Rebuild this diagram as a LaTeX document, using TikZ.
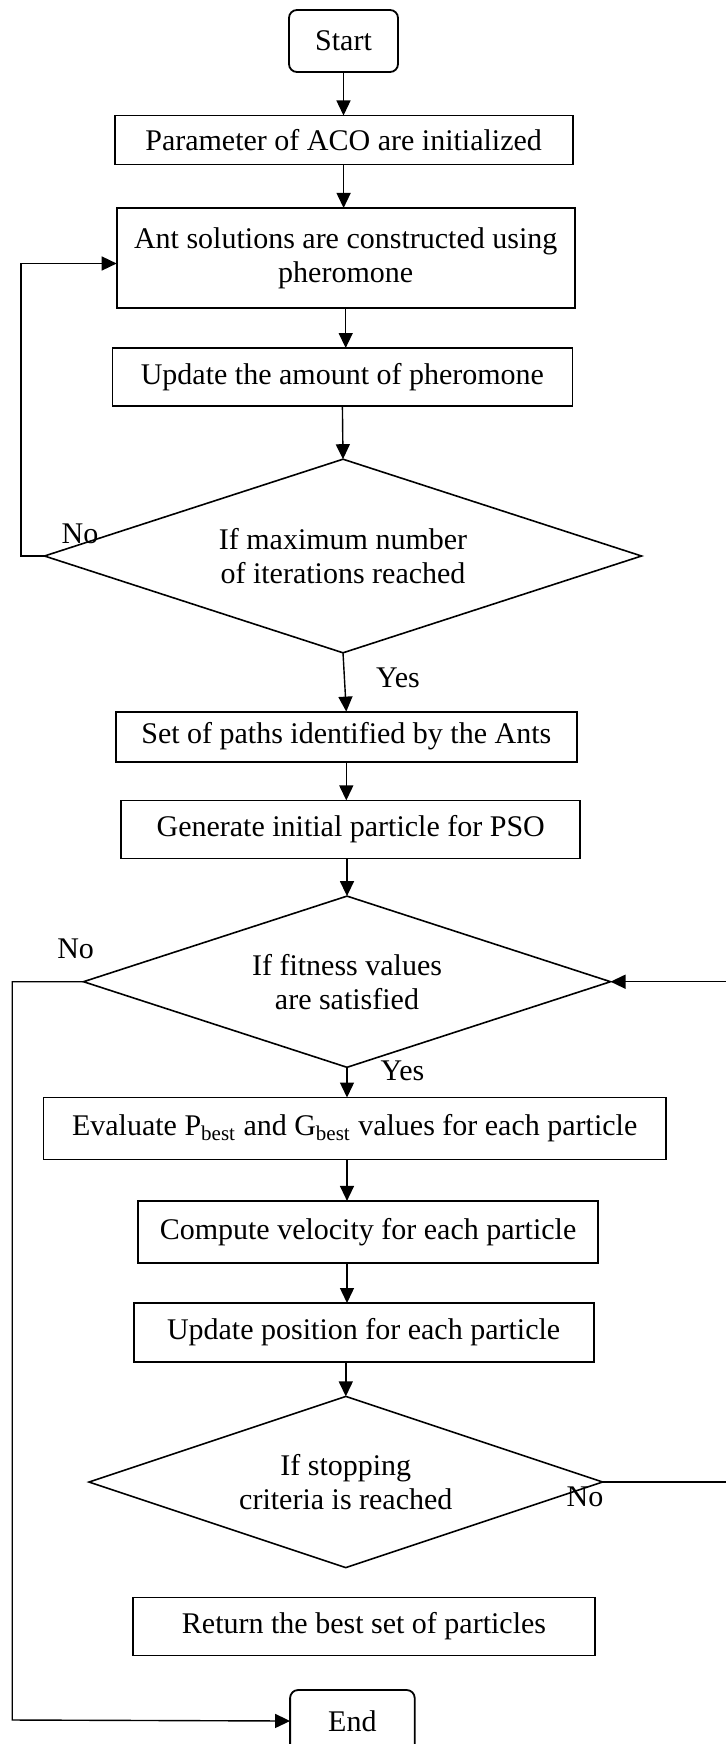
\documentclass[tikz,border=0pt]{standalone}
\usepackage{fontspec}
\setmainfont{Liberation Serif}
\usepackage{tikz}
\usetikzlibrary{arrows.meta,shapes.geometric}

\begin{document}
\begin{tikzpicture}[x=0.5pt, y=-0.5pt, font=\fontsize{15}{17}\selectfont,
  box/.style={draw, line width=0.9pt, rectangle, inner sep=0pt, outer sep=0pt, align=center},
  term/.style={box, rounded corners=4pt, minimum width=54.5pt, minimum height=31pt},
  decision/.style={draw, line width=0.8pt, diamond, aspect=2.5, inner sep=0pt, outer sep=0pt, align=center},
  arr/.style={line width=0.7pt, -{Triangle[length=7.5pt, width=7pt]}},
  lab/.style={inner sep=0pt}]

% page frame: same size as the reference, in pixels
\useasboundingbox (0,0) rectangle (726,1744);

%% ------------------------------------------------------------------
%% ACO part: build and refine ant paths until the iteration limit
%% ------------------------------------------------------------------
\node[term] (start) at (343.5,41) {Start};
\node[box, minimum width=229pt, minimum height=24.5pt] (init) at (343.6,140)
  {Parameter of ACO are initialized};
\node[box, minimum width=229pt, minimum height=50pt] (construct) at (345.7,258)
  {Ant solutions are constructed using\\pheromone};
\node[box, minimum width=230pt, minimum height=29pt] (update) at (342.4,377)
  {Update the amount of pheromone};
\node[decision, minimum width=298.5pt, minimum height=96.8pt] (maxiter) at (343,556)
  {If maximum number\\of iterations reached};
\node[box, minimum width=230.5pt, minimum height=25pt] (paths) at (346.3,736.6)
  {Set of paths identified by the Ants};

%% ------------------------------------------------------------------
%% PSO part: particles seeded from the ant paths
%% ------------------------------------------------------------------
\node[box, minimum width=229.5pt, minimum height=29pt] (genpso) at (350.7,829.4)
  {Generate initial particle for PSO};
\node[decision, minimum width=263.5pt, minimum height=85.6pt] (fitness) at (347,981.7)
  {If fitness values\\are satisfied};
\node[box, minimum width=311.3pt, minimum height=31pt] (evalbest) at (354.7,1128.5)
  {Evaluate P\textsubscript{best} and G\textsubscript{best} values for each particle};
\node[box, minimum width=230pt, minimum height=31pt] (velocity) at (368,1231.9)
  {Compute velocity for each particle};
\node[box, minimum width=230pt, minimum height=29.5pt] (position) at (363.6,1332.5)
  {Update position for each particle};
\node[decision, minimum width=256.8pt, minimum height=85.6pt] (stopping) at (345.8,1482)
  {If stopping\\criteria is reached};
\node[box, minimum width=230.7pt, minimum height=29pt] (bestset) at (364,1626.5)
  {Return the best set of particles};
\node[term, minimum width=62.3pt] (finish) at (352.4,1721) {End};

% main downward flow
\draw[arr] (start.south) -- (start.south |- init.north);
\draw[arr] (init.south) -- (init.south |- construct.north);
\draw[arr] (construct.south) -- (construct.south |- update.north);
\draw[arr] (update.south) -- (maxiter.north);
\draw[arr] (maxiter.south) -- (paths.north);
\draw[arr] (paths.south) -- (paths.south |- genpso.north);
\draw[arr] (fitness.north |- genpso.south) -- (fitness.north);
\draw[arr] (fitness.south) -- (fitness.south |- evalbest.north);
\draw[arr] (evalbest.south -| fitness) -- (velocity.north -| fitness);
\draw[arr] (velocity.south -| fitness) -- (position.north -| fitness);
\draw[arr] (position.south -| stopping) -- (stopping.north);

% feedback loops (the right-hand riser sits just past the page edge)
\coordinate (loopaco) at (21,263.5);
\coordinate (loopend) at (12.2,1720);
\coordinate (looppso) at (732,981.7);
\draw[arr] (maxiter.west) -| (loopaco) -- (loopaco -| construct.west);
\draw[arr] (fitness.west) -| (loopend) -- (finish.west);
\draw[arr] (stopping.east) -| (looppso) -- (fitness.east);

% branch labels
\node[lab] (noaco) at (80,533.7) {No};
\node[lab] (yesaco) at (398,678) {Yes};
\node[lab] (nofit) at (75.6,948.4) {No};
\node[lab] (yesfit) at (402.5,1071) {Yes};
\node[lab] (nostop) at (585,1497) {No};

\end{tikzpicture}
\end{document}
